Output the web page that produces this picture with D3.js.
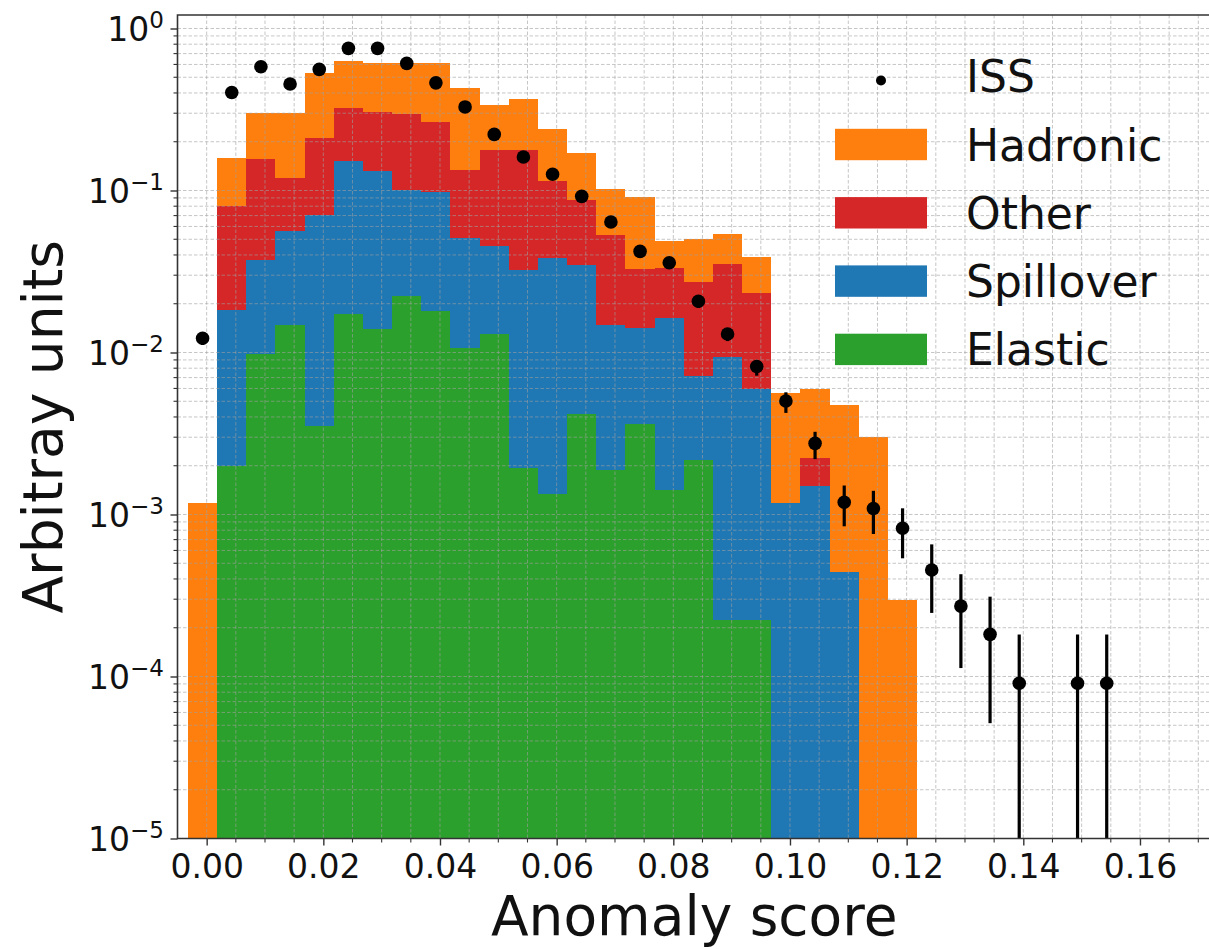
<!DOCTYPE html>
<html><head><meta charset="utf-8">
<script src="https://cdn.jsdelivr.net/npm/d3@7"></script>
<style>body{margin:0;background:#fff;overflow:hidden;} svg{display:block;font-family:"DejaVu Sans",sans-serif;}</style>
</head><body><svg id="c" width="1209" height="949"></svg>
<script>
// ---------- data ----------
const binEdges = [-0.0032, 0.0018, 0.0068, 0.0118, 0.0168, 0.0218, 0.0268, 0.0318, 0.0368, 0.0418,
  0.0468, 0.0518, 0.0568, 0.0618, 0.0668, 0.0718, 0.0768, 0.0818, 0.0868, 0.0918,
  0.0968, 0.1018, 0.1068, 0.1118, 0.1168, 0.1218];
const elastic   = [0, 0.0020, 0.0098, 0.0147, 0.00353, 0.0173, 0.0139, 0.0222, 0.0180, 0.0107,
  0.0130, 0.00195, 0.00134, 0.0042, 0.00188, 0.0036, 0.00142, 0.00217, 0.000224, 0.000224,
  0, 0, 0, 0, 0];
const spillover = [0, 0.0162, 0.0272, 0.0413, 0.0675, 0.1347, 0.118, 0.0788, 0.080, 0.0402,
  0.0325, 0.0302, 0.0370, 0.0303, 0.0129, 0.0105, 0.01484, 0.00499, 0.0092, 0.00571,
  0.00118, 0.00149, 0.000444, 0, 0];
const other     = [0, 0.0618, 0.119, 0.063, 0.140, 0.169, 0.174, 0.194, 0.167, 0.0821,
  0.1325, 0.1449, 0.0757, 0.0534, 0.0383, 0.0185, 0.01684, 0.02024, 0.02558, 0.01747,
  0, 0.00073, 0, 0, 0];
const hadronic  = [0.00117, 0.079, 0.147, 0.180, 0.317, 0.311, 0.303, 0.314, 0.344, 0.297,
  0.158, 0.188, 0.124, 0.0831, 0.0496, 0.059, 0.0157, 0.0226, 0.0189, 0.0153,
  0.00442, 0.00373, 0.0043, 0.00302, 0.000297];

const issScore = [-0.0007, 0.0043, 0.0093, 0.0143, 0.0193, 0.0243, 0.0293, 0.0343, 0.0393, 0.0443,
  0.0493, 0.0543, 0.0593, 0.0643, 0.0693, 0.0743, 0.0793, 0.0843, 0.0893, 0.0943,
  0.0993, 0.1043, 0.1093, 0.1143, 0.1193, 0.1243, 0.1293, 0.1343, 0.1393, 0.1443,
  0.1493, 0.1543];
const issValue = [0.01225, 0.403, 0.581, 0.454, 0.559, 0.754, 0.754, 0.609, 0.462, 0.328,
  0.222, 0.161, 0.126, 0.092, 0.0639, 0.0421, 0.0358, 0.0207, 0.0130, 0.0082,
  0.00502, 0.00275, 0.00119, 0.00109, 0.000822, 0.000454, 0.000272, 0.000182, 0.0000908, null,
  0.0000908, 0.0000908];
const issError = [0.0008, 0.006, 0.0072, 0.0064, 0.0071, 0.0082, 0.0082, 0.0074, 0.0064, 0.0054,
  0.0045, 0.0038, 0.0034, 0.0029, 0.0024, 0.0019, 0.0018, 0.0013, 0.0009, 0.0008,
  0.00066, 0.00049, 0.00032, 0.00031, 0.00027, 0.0002, 0.000156, 0.000129, 0.0000908, null,
  0.0000908, 0.0000908];

const xTickValues = [0, 0.02, 0.04, 0.06, 0.08, 0.10, 0.12, 0.14, 0.16];
const xTickLabels = ["0.00", "0.02", "0.04", "0.06", "0.08", "0.10", "0.12", "0.14", "0.16"];
const yTickValues = [1, 1e-1, 1e-2, 1e-3, 1e-4, 1e-5];
const yTickExponents = ["0", "\u22121", "\u22122", "\u22123", "\u22124", "\u22125"];
const seriesNames = ["Elastic", "Spillover", "Other", "Hadronic"];
const legendOrder = ["Hadronic", "Other", "Spillover", "Elastic"];
const seriesColors = {Elastic: "#2ca02c", Spillover: "#1f77b4", Other: "#d62728", Hadronic: "#ff7f0e"};

// ---------- layout ----------
const pLeft = 177.5, pRight = 1215.8, pTop = 15, pBottom = 838.5;
const x = d3.scaleLinear().domain([-0.005, 0.173]).range([pLeft, pRight]);
const y = d3.scaleLog().domain([1e-5, 1.2115]).range([pBottom, pTop]);
const yb = v => (v <= 1e-5 ? pBottom : y(v));

const svg = d3.select("#c");
svg.append("defs").append("clipPath").attr("id", "plot")
  .append("rect").attr("x", pLeft).attr("y", pTop).attr("width", pRight - pLeft).attr("height", pBottom - pTop);

const plot = svg.append("g").attr("clip-path", "url(#plot)");

// stacked bars
const rows = elastic.map((_, i) => ({
  x0: binEdges[i], x1: binEdges[i + 1],
  Elastic: elastic[i], Spillover: spillover[i], Other: other[i], Hadronic: hadronic[i]
}));
const stacked = d3.stack().keys(seriesNames)(rows);
plot.append("g").selectAll("g").data(stacked).join("g")
  .attr("fill", d => seriesColors[d.key])
  .selectAll("rect").data(d => d.filter(s => s[1] - s[0] > 0)).join("rect")
  .attr("shape-rendering", "crispEdges")
  .attr("x", d => x(d.data.x0))
  .attr("width", d => x(d.data.x1) - x(d.data.x0))
  .attr("y", d => y(d[1]))
  .attr("height", d => yb(d[0]) - y(d[1]));

// grid (drawn over bars, like the reference)
const xMinor = d3.range(-0.005, 0.1751, 0.005).map(v => +v.toFixed(4));
const yGrid = [];
for (let e = -5; e <= 0; e++) for (let m = 1; m <= 9; m++) { const v = m * Math.pow(10, e); if (v <= 1.2115) yGrid.push(v); }
const grid = plot.append("g").attr("stroke", "#a0a0a0").attr("stroke-opacity", 0.6)
  .attr("stroke-width", 1).attr("stroke-dasharray", "3.5,2").attr("fill", "none");
grid.selectAll("line.v").data(xMinor).join("line").attr("class", "v")
  .attr("x1", d => x(d)).attr("x2", d => x(d)).attr("y1", pTop).attr("y2", pBottom);
grid.selectAll("line.h").data(yGrid).join("line").attr("class", "h")
  .attr("y1", d => y(d)).attr("y2", d => y(d)).attr("x1", pLeft).attr("x2", pRight);

// ISS points with error bars
const iss = issScore.map((s, i) => ({s, v: issValue[i], e: issError[i]})).filter(d => d.v != null);
plot.append("g").attr("stroke", "#000").attr("stroke-width", 3.2)
  .selectAll("line").data(iss).join("line")
  .attr("x1", d => x(d.s)).attr("x2", d => x(d.s))
  .attr("y1", d => y(d.v + d.e)).attr("y2", d => yb(d.v - d.e) + 2);
plot.append("g").selectAll("circle").data(iss).join("circle")
  .attr("cx", d => x(d.s)).attr("cy", d => y(d.v)).attr("r", 6.8).attr("fill", "#000");

// axes
const axisColor = "#333";
const xAxis = svg.append("g").attr("transform", `translate(0,${pBottom})`)
  .call(d3.axisBottom(x).tickValues(xTickValues).tickSize(7).tickSizeOuter(0).tickPadding(9)
    .tickFormat((d, i) => xTickLabels[i]));
xAxis.select(".domain").remove();
xAxis.selectAll(".tick line").attr("stroke", axisColor).attr("stroke-width", 1.4);
xAxis.selectAll(".tick text").attr("font-size", 33).attr("fill", "#111")
  .attr("font-family", "DejaVu Sans");
const xMinorTicks = xMinor.filter(v => v > -0.0049 && Math.abs(Math.round(v / 0.02) * 0.02 - v) > 1e-6);
svg.append("g").attr("stroke", axisColor).attr("stroke-width", 1.1)
  .selectAll("line").data(xMinorTicks).join("line")
  .attr("x1", d => x(d)).attr("x2", d => x(d)).attr("y1", pBottom).attr("y2", pBottom + 4);

const yAxis = svg.append("g").attr("transform", `translate(${pLeft},0)`)
  .call(d3.axisLeft(y).tickValues(yTickValues).tickSize(7).tickSizeOuter(0).tickFormat(() => ""));
yAxis.select(".domain").remove();
yAxis.selectAll(".tick line").attr("stroke", axisColor).attr("stroke-width", 1.4);
const yMinor = yGrid.filter(v => Math.abs(Math.log10(v) - Math.round(Math.log10(v))) > 1e-9);
svg.append("g").attr("stroke", axisColor).attr("stroke-width", 1.1)
  .selectAll("line").data(yMinor).join("line")
  .attr("y1", d => y(d)).attr("y2", d => y(d)).attr("x1", pLeft - 4).attr("x2", pLeft);

const yLab = svg.append("g").attr("fill", "#111");
yTickValues.forEach((v, i) => {
  const t = yLab.append("text").attr("x", 164).attr("y", y(v) + 12.5)
    .attr("text-anchor", "end").attr("font-size", 33);
  t.append("tspan").text("10");
  t.append("tspan").attr("font-size", 23).attr("dy", -13).text(yTickExponents[i]);
});

// spines
svg.append("path")
  .attr("d", `M${pRight},${pTop}H${pLeft}V${pBottom}H${pRight}`)
  .attr("fill", "none").attr("stroke", axisColor).attr("stroke-width", 1.6);

// axis titles
svg.append("text").attr("x", (pLeft + 1209) / 2 + 1).attr("y", 935).attr("text-anchor", "middle")
  .attr("font-size", 55).attr("fill", "#111").text("Anomaly score");
svg.append("text").attr("transform", `translate(62,${(pTop + pBottom) / 2}) rotate(-90)`)
  .attr("text-anchor", "middle").attr("font-size", 55).attr("fill", "#111").text("Arbitray units");

// legend
const lg = svg.append("g");
lg.append("circle").attr("cx", 881).attr("cy", 80.5).attr("r", 5).attr("fill", "#000");
lg.append("text").attr("x", 966).attr("y", 92).attr("font-size", 44).attr("fill", "#111").text("ISS");
legendOrder.forEach((k, i) => {
  const cy = 144.5 + i * 68.3;
  lg.append("rect").attr("x", 835).attr("y", cy - 15.7).attr("width", 92).attr("height", 31.4)
    .attr("fill", seriesColors[k]);
  lg.append("text").attr("x", 966).attr("y", cy + 16).attr("font-size", 44).attr("fill", "#111").text(k);
});
</script></body></html>
